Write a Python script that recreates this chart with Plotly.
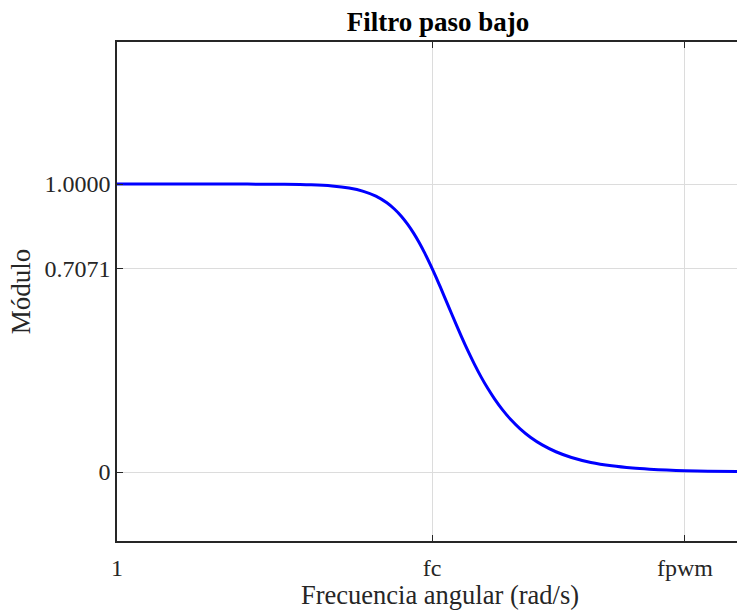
import plotly.graph_objects as go

# Data (log-frequency axis, magnitude)
fc = 29.2
fpwm = 438.0
freq = [1, 3, 6, 8, 10, 12, 14, 16, 18, 19.5, 21, 22.5, 24, 25.5, 27, 29.2, 30.5, 32, 34, 36,
        40, 43, 46, 49.5, 53, 57, 62, 68, 75, 84, 95, 110, 130, 160, 200, 250, 300, 360,
        438, 560, 765]
modulo = [1.0000, 0.9999, 0.9991, 0.9972, 0.9932, 0.9860, 0.9746, 0.9579, 0.9348, 0.9132,
          0.8883, 0.8598, 0.8286, 0.7951, 0.7600, 0.7071, 0.6757, 0.6399, 0.5935, 0.5496,
          0.4703, 0.4188, 0.3738, 0.3286, 0.2905, 0.2539, 0.2165, 0.1813, 0.1499, 0.1199,
          0.0941, 0.0703, 0.0504, 0.0333, 0.0213, 0.0136, 0.0095, 0.0066, 0.0044, 0.0027,
          0.0015]
x_tickvals = [1, fc, fpwm]
x_ticktext = ["1", "fc", "fpwm"]
y_tickvals = [0, 0.7071, 1.0]
y_ticktext = ["0", "0.7071", "1.0000"]

font_family = "Liberation Serif, Times New Roman, serif"

fig = go.Figure()
fig.add_trace(go.Scatter(
    x=freq, y=modulo, mode="lines",
    line=dict(color="#0000ff", width=3, shape="spline", smoothing=0.8),
    showlegend=False, hoverinfo="skip",
))

fig.update_layout(
    width=737, height=612,
    margin=dict(l=117, r=0, t=42, b=71),
    paper_bgcolor="white", plot_bgcolor="white",
    font=dict(family=font_family, size=23, color="#262626"),
    title=dict(text="<b>Filtro paso bajo</b>", x=438/737, xanchor="center", xref="container",
               y=1 - 22/612, yanchor="middle", yref="container",
               font=dict(family=font_family, size=27, color="#000000")),
    annotations=[dict(
        text="Frecuencia angular (rad/s)", xref="paper", yref="paper",
        x=(440 - 117) / 620, y=-(595 - 541) / 499, xanchor="center", yanchor="middle",
        showarrow=False, font=dict(family=font_family, size=26.5, color="#262626"),
    )],
)

fig.update_xaxes(
    type="log", range=[0, 2.8837],
    tickmode="array", tickvals=x_tickvals, ticktext=x_ticktext,
    ticks="inside", ticklen=6, tickwidth=1, tickcolor="#262626",
    showline=True, linecolor="#262626", linewidth=1.5, mirror="ticks",
    showgrid=True, gridcolor="#dcdcdc", gridwidth=1,
    zeroline=False, ticklabelstandoff=4,
    tickfont=dict(family=font_family, size=24, color="#262626"),
)
fig.update_yaxes(
    range=[-0.2396, 1.4931],
    tickmode="array", tickvals=y_tickvals, ticktext=y_ticktext,
    ticks="inside", ticklen=6, tickwidth=1, tickcolor="#262626",
    showline=True, linecolor="#262626", linewidth=1.5, mirror=False,
    showgrid=True, gridcolor="#dcdcdc", gridwidth=1,
    zeroline=False,
    tickfont=dict(family=font_family, size=24, color="#262626"),
    title=dict(text="Módulo", standoff=6,
               font=dict(family=font_family, size=27, color="#262626")),
)

fig.write_html("out.html")
